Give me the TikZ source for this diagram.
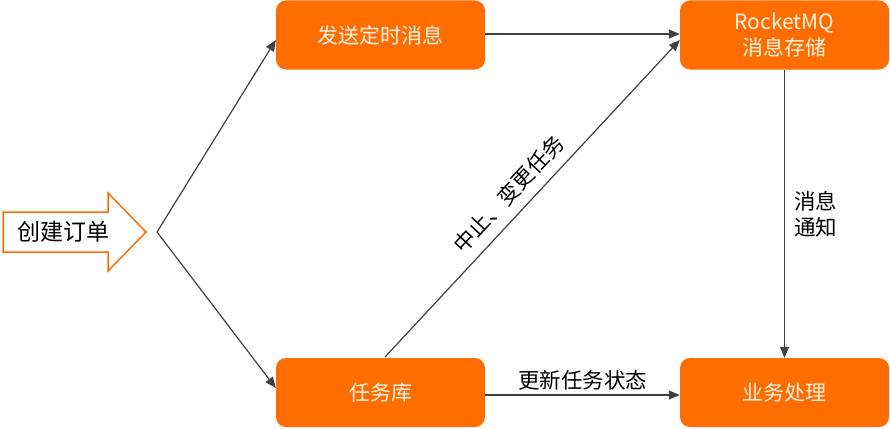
\documentclass[tikz,border=0pt]{standalone}
\usepackage{fontspec}
\setmainfont{Noto Sans CJK SC}
\usetikzlibrary{arrows.meta}
\definecolor{boxorange}{HTML}{FF6D00}
\definecolor{linegray}{HTML}{404040}
\definecolor{boxtext}{HTML}{FFF4E6}
\begin{document}
\begin{tikzpicture}[x=1pt,y=-1pt,
  box/.style={draw=none,fill=boxorange,rounded corners=10pt,minimum width=209pt,minimum height=69pt,inner sep=0pt,text=boxtext,font=\fontsize{21}{26}\selectfont,align=center},
  conn/.style={draw=linegray,line width=1.2pt,-{Triangle[length=11pt,width=9pt]}},
  lbl/.style={font=\fontsize{21.5}{26}\selectfont,text=black,align=left,inner sep=1pt}]
\useasboundingbox (0,0) rectangle (890,428);
\node[box] (send) at (380.5,35) {发送定时消息};
\node[box] (mq) at (784.5,35) {RocketMQ\\消息存储};
\node[box] (task) at (380.5,392.5) {任务库};
\node[box] (biz) at (784.5,392.5) {业务处理};
\draw[draw=boxorange,line width=1.5pt,fill=white] (3,212) -- (108,212) -- (108,193) -- (146,232) -- (108,271) -- (108,252) -- (3,252) -- cycle;
\node[font=\fontsize{23}{26}\selectfont,text=black] (order) at (63,232) {创建订单};
\coordinate (fork) at (157,232);
\coordinate (tstart) at (385,357);
\draw[conn] (fork) -- (send.west|-0,40);
\draw[conn] (fork) -- (task.west|-0,388);
\draw[conn] (send.east|-0,34) -- (mq.west|-0,34);
\draw[conn] (tstart) -- (mq.west|-0,40) node[pos=0.47,sloped,above=9pt,lbl] {中止、变更任务};
\draw[conn] (mq.south) -- (biz.north) node[midway,right=8pt,lbl] {消息\\通知};
\draw[conn] (task.east|-0,395) -- (biz.west|-0,395) node[midway,above=3pt,lbl] {更新任务状态};
\end{tikzpicture}
\end{document}
